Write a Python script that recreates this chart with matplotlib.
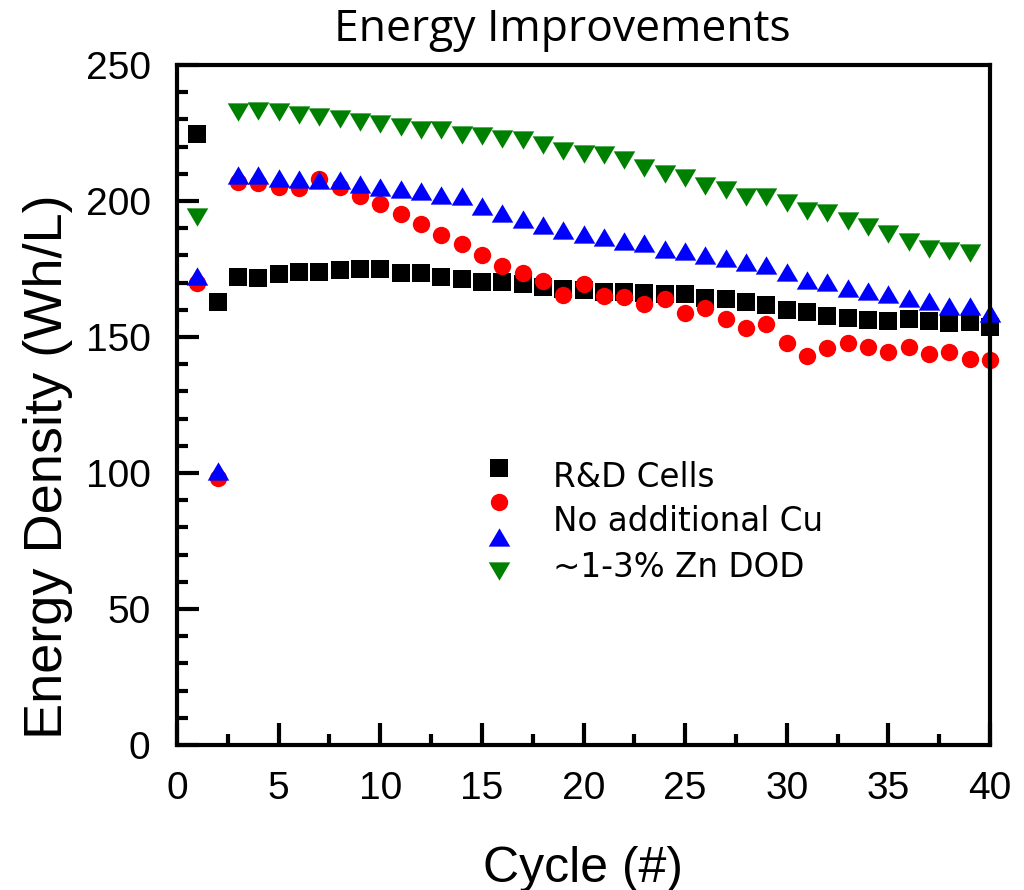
import numpy as np
import matplotlib
matplotlib.use("Agg")
import matplotlib.pyplot as plt
from matplotlib.lines import Line2D

nan = np.nan

# cycle numbers
cycles = np.arange(1, 41)

# energy density (Wh/L) per series
rd_cells = [224.5, 163.0, 172.2, 171.6, 173.0, 174.0, 174.0, 174.6, 175.0, 175.0,
            173.4, 173.4, 171.9, 171.2, 170.3, 170.1, 169.4, 168.5, 167.6, 167.3,
            166.7, 166.7, 166.1, 165.7, 165.7, 164.5, 163.8, 162.7, 161.6, 159.8,
            159.1, 157.6, 156.9, 156.1, 155.8, 156.5, 155.8, 155.0, 155.4, 153.6]
no_cu = [169.7, 98.3, 207.0, 206.5, 205.0, 204.6, 208.0, 205.3, 201.8, 198.9,
         195.2, 191.5, 187.5, 184.1, 180.1, 176.1, 173.4, 170.7, 165.4, 169.4,
         165.2, 164.8, 162.1, 164.0, 158.9, 160.5, 156.5, 153.3, 154.7, 147.7,
         143.1, 146.1, 147.7, 146.5, 144.6, 146.3, 143.8, 144.4, 142.0, 141.4]
blue_tri = [172.3, 100.6, 209.6, 209.6, 208.3, 208.2, 207.7, 207.6, 206.3, 205.3,
            204.5, 203.5, 202.3, 201.7, 198.0, 195.6, 193.2, 191.1, 189.5, 187.9,
            186.7, 185.2, 184.6, 182.4, 181.6, 180.1, 179.0, 177.4, 176.5, 174.0,
            170.9, 170.3, 168.1, 166.9, 165.7, 164.2, 163.3, 161.5, 161.5, 158.9]
zn_dod = [194.1, nan, 232.7, 233.1, 232.7, 231.7, 230.9, 230.3, 229.0, 228.3,
          227.1, 226.2, 226.2, 224.3, 223.8, 222.9, 222.6, 220.6, 218.3, 217.3,
          217.0, 214.9, 212.1, 210.0, 208.3, 205.5, 204.2, 201.5, 201.6, 199.3,
          196.2, 195.7, 192.5, 190.4, 187.9, 185.0, 182.5, 181.5, 180.9, nan]

legend_texts = ["R&D Cells", "No additional Cu", "~1-3% Zn DOD"]

# slightly flattened triangles, like the original markers
tri_up = [(-1, -0.85), (1, -0.85), (0, 0.85)]
tri_down = [(-1, 0.85), (1, 0.85), (0, -0.85)]

fig = plt.figure(figsize=(10.24, 8.9), dpi=100)
ax = fig.add_axes([177/1024, 145/890, 813/1024, 680/890])

# series: (values, marker, colour, size)
series = [(rd_cells, "s", "black", 12.3),
          (no_cu, "o", "red", 12.5),
          (blue_tri, tri_up, "blue", 15.5),
          (zn_dod, tri_down, "green", 15.5)]
handles = []
for vals, mk, col, ms in series:
    ax.plot(cycles, vals, linestyle="none", marker=mk, color=col,
            markersize=ms, markeredgewidth=0, clip_on=False)
    handles.append(Line2D([], [], linestyle="none", marker=mk, color=col,
                          markersize=ms, markeredgewidth=0))

ax.set_xlim(0, 40)
ax.set_ylim(0, 250)
ax.set_xticks(np.arange(0, 41, 5))
ax.set_xticks(np.arange(0, 41, 2.5), minor=True)
ax.set_yticks(np.arange(0, 251, 50))
ax.set_yticks(np.arange(0, 251, 10), minor=True)

for s in ax.spines.values():
    s.set_linewidth(3)
ax.tick_params(which="both", direction="in", width=3, top=False, right=False,
               labelsize=28, pad=19)
ax.tick_params(which="major", length=16)
ax.tick_params(which="minor", length=8)
for lab in ax.get_xticklabels() + ax.get_yticklabels():
    lab.set_fontfamily("Liberation Sans")

# legend: markers column, text column
leg = ax.legend(handles, [" "] * 4, loc="center", bbox_to_anchor=(0.402, 0.329),
                frameon=False, fontsize=20, handlelength=1.0, handletextpad=0.0,
                labelspacing=0.23, borderpad=0)
text_y = [487, 531, 577]
for txt, py in zip(legend_texts, text_y):
    ax.text(0.4625, (745 - py) / 680, txt, transform=ax.transAxes,
            fontsize=23.5, family="DejaVu Sans", va="baseline", ha="left")

fig.text(562/1024, 1 - 41/890, "Energy Improvements", ha="center", va="baseline",
         fontsize=32, family="Open Sans")
fig.text(583/1024, 8/890, "Cycle (#)", ha="center", va="baseline",
         fontsize=36, family="Liberation Sans")
fig.text(48/1024, 1 - 467/890, "Energy Density (Wh/L)", ha="center", va="center",
         rotation=90, fontsize=39, family="Liberation Sans")

fig.savefig("out.png", dpi=100, facecolor="white")
